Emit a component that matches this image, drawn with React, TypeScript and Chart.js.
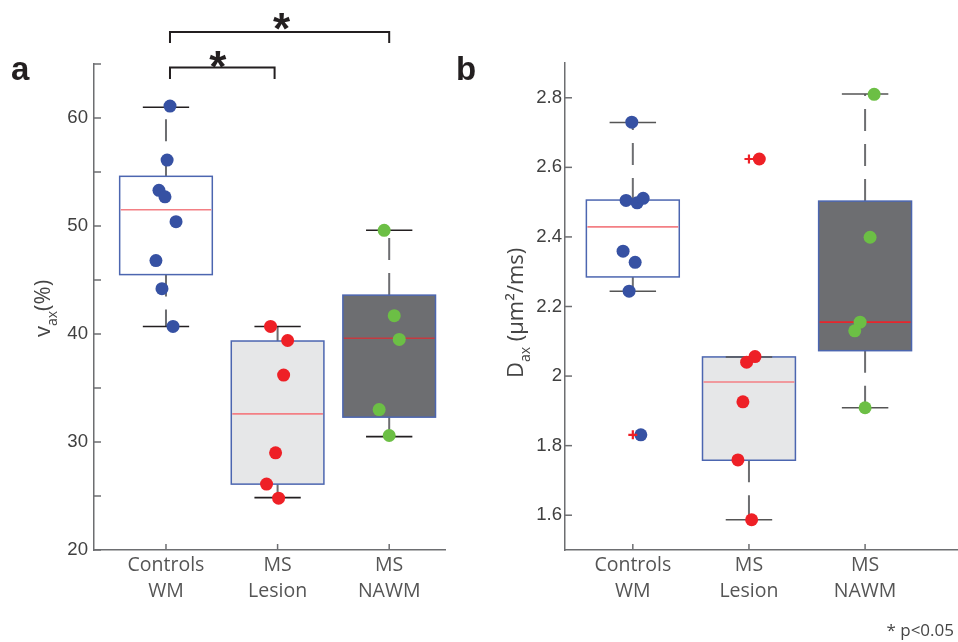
import React, { useEffect, useRef } from 'react';
import { Chart, registerables } from 'chart.js';

Chart.register(...registerables);

// ---------- shared ----------
const CATEGORIES: string[][] = [['Controls', 'WM'], ['MS', 'Lesion'], ['MS', 'NAWM']];
const CAT_POS = [1, 2, 3];
const POINT_COLORS = ['#3651a3', '#ee2026', '#6cbf45'];
const BOX_FILLS = ['#ffffff', '#e6e7e8', '#6d6e71'];

// ---------- panel a : v_ax (%) ----------
const A_Y_TICKS = [20, 25, 30, 35, 40, 45, 50, 55, 60, 65];
const A_Y_LABELS = [20, 30, 40, 50, 60];
const A_LOW = [40.7, 24.85, 30.5];
const A_Q1 = [45.5, 26.1, 32.3];
const A_MED = [51.5, 32.6, 39.6];
const A_Q3 = [54.6, 39.35, 43.6];
const A_HIGH = [61.0, 40.7, 49.6];
const A_CTRL = [61.1, 56.1, 53.3, 52.7, 50.4, 46.8, 44.2, 40.7];
const A_CTRL_JIT = [0.036, 0.01, -0.063, -0.009, 0.09, -0.09, -0.036, 0.063];
const A_LES = [40.7, 39.4, 36.2, 29.0, 26.1, 24.8];
const A_LES_JIT = [-0.063, 0.09, 0.054, -0.018, -0.099, 0.009];
const A_NAWM = [49.6, 41.7, 39.5, 33.0, 30.6];
const A_NAWM_JIT = [-0.045, 0.045, 0.09, -0.09, 0];

// ---------- panel b : D_ax (um2/ms) ----------
const B_Y_TICKS = [1.6, 1.8, 2.0, 2.2, 2.4, 2.6, 2.8];
const B_Y_LABELS = ['1.6', '1.8', '2', '2.2', '2.4', '2.6', '2.8'];
const B_LOW = [2.244, 1.587, 1.909];
const B_Q1 = [2.285, 1.758, 2.073];
const B_MED = [2.429, 1.983, 2.155];
const B_Q3 = [2.506, 2.055, 2.503];
const B_HIGH = [2.729, 2.055, 2.811];
const B_CTRL = [2.73, 2.505, 2.498, 2.511, 2.359, 2.327, 2.244, 1.831];
const B_CTRL_JIT = [-0.009, -0.058, 0.037, 0.089, -0.084, 0.02, -0.032, 0.069];
const B_LES = [2.624, 2.056, 2.04, 1.926, 1.759, 1.587];
const B_LES_JIT = [0.089, 0.052, -0.02, -0.052, -0.095, 0.023];
const B_NAWM = [2.81, 2.399, 2.155, 2.13, 1.909];
const B_NAWM_JIT = [0.078, 0.043, -0.043, -0.089, 0];
const B_OUTLIER_CAT = [1, 2];
const B_OUTLIER_VAL = [1.831, 2.624];

const AXIS_COLOR = '#6d6e71';
const TEXT_COLOR = '#454545';

function pts(vals: number[], jit: number[], cat: number) {
  return vals.map((v, i) => ({ x: cat + jit[i], y: v }));
}

function boxPlugin(id: string, st: any) {
  return {
    id,
    beforeDatasetsDraw(chart: any) {
      const ctx = chart.ctx;
      const xs = chart.scales.x;
      const ys = chart.scales.y;
      ctx.save();
      for (let i = 0; i < 3; i++) {
        const c = CAT_POS[i];
        const xc = xs.getPixelForValue(c);
        const xl = xs.getPixelForValue(c - st.boxWidth / 2);
        const xr = xs.getPixelForValue(c + st.boxWidth / 2);
        const cl = xs.getPixelForValue(c - st.boxWidth / 4);
        const cr = xs.getPixelForValue(c + st.boxWidth / 4);
        const yLo = ys.getPixelForValue(st.low[i]);
        const yQ1 = ys.getPixelForValue(st.q1[i]);
        const yMed = ys.getPixelForValue(st.med[i]);
        const yQ3 = ys.getPixelForValue(st.q3[i]);
        const yHi = ys.getPixelForValue(st.high[i]);
        // dashed whiskers, starting at box edges
        ctx.strokeStyle = '#6d6e71';
        ctx.lineWidth = 2;
        ctx.setLineDash([22, 13]);
        if (Math.abs(yQ3 - yHi) > 0.5) {
          ctx.beginPath(); ctx.moveTo(xc, yQ3); ctx.lineTo(xc, yHi); ctx.stroke();
        }
        if (Math.abs(yQ1 - yLo) > 0.5) {
          ctx.beginPath(); ctx.moveTo(xc, yQ1); ctx.lineTo(xc, yLo); ctx.stroke();
        }
        ctx.setLineDash([]);
        // box
        ctx.fillStyle = BOX_FILLS[i];
        ctx.fillRect(xl, yQ3, xr - xl, yQ1 - yQ3);
        ctx.strokeStyle = '#4c66b0';
        ctx.lineWidth = 1.5;
        ctx.strokeRect(xl, yQ3, xr - xl, yQ1 - yQ3);
        // median
        ctx.strokeStyle = st.medColors[i];
        ctx.lineWidth = 1.6;
        ctx.beginPath(); ctx.moveTo(xl + 1, yMed); ctx.lineTo(xr - 1, yMed); ctx.stroke();
        // caps
        ctx.strokeStyle = st.capColor;
        ctx.lineWidth = 1.6;
        ctx.beginPath(); ctx.moveTo(cl, yHi); ctx.lineTo(cr, yHi); ctx.stroke();
        ctx.beginPath(); ctx.moveTo(cl, yLo); ctx.lineTo(cr, yLo); ctx.stroke();
      }
      // inward tick marks
      ctx.strokeStyle = AXIS_COLOR;
      ctx.lineWidth = 1.5;
      const area = chart.chartArea;
      for (const t of ys.ticks) {
        const y = ys.getPixelForValue(t.value);
        ctx.beginPath(); ctx.moveTo(area.left, y); ctx.lineTo(area.left + 7, y); ctx.stroke();
      }
      for (const t of xs.ticks) {
        const x = xs.getPixelForValue(t.value);
        ctx.beginPath(); ctx.moveTo(x, area.bottom); ctx.lineTo(x, area.bottom - 6); ctx.stroke();
      }
      ctx.restore();
    },
  };
}

function drawRotTitle(ctx: CanvasRenderingContext2D, x: number, y: number, parts: any[]) {
  ctx.save();
  ctx.translate(x, y);
  ctx.rotate(-Math.PI / 2);
  ctx.fillStyle = TEXT_COLOR;
  ctx.textAlign = 'left';
  ctx.textBaseline = 'alphabetic';
  let cx = 0;
  for (const p of parts) {
    ctx.font = p.font;
    ctx.fillText(p.text, cx, p.dy || 0);
    cx += ctx.measureText(p.text).width;
  }
  ctx.restore();
}

const TITLE_FONT = '22px "Open Sans"';
const SUB_FONT = '14px "Open Sans"';

const annotA = {
  id: 'annotA',
  afterDraw(chart: any) {
    const ctx = chart.ctx;
    const xs = chart.scales.x;
    ctx.save();
    // panel letter
    ctx.fillStyle = '#231f20';
    ctx.font = 'bold 33px "Liberation Sans"';
    ctx.textAlign = 'left';
    ctx.textBaseline = 'alphabetic';
    ctx.fillText('a', 11, 80);
    // significance brackets
    const x1 = xs.getPixelForValue(1);
    const x2 = xs.getPixelForValue(2);
    const x3 = xs.getPixelForValue(3);
    ctx.strokeStyle = '#231f20';
    ctx.lineWidth = 2;
    ctx.beginPath();
    ctx.moveTo(x1 + 4, 79); ctx.lineTo(x1 + 4, 67.5); ctx.lineTo(x2 - 3, 67.5); ctx.lineTo(x2 - 3, 79);
    ctx.stroke();
    ctx.beginPath();
    ctx.moveTo(x1 + 4, 43); ctx.lineTo(x1 + 4, 32); ctx.lineTo(x3, 32); ctx.lineTo(x3, 43);
    ctx.stroke();
    ctx.fillStyle = '#231f20';
    ctx.font = 'bold 44px "Liberation Sans"';
    ctx.textAlign = 'center';
    ctx.fillText('*', (x1 + x2) / 2 - 4, 82);
    ctx.fillText('*', (x1 + x3) / 2 + 4, 44);
    ctx.restore();
    drawRotTitle(ctx, 50, 337, [
      { text: 'v', font: TITLE_FONT },
      { text: 'ax', font: SUB_FONT, dy: 7 },
      { text: '(%)', font: TITLE_FONT },
    ]);
  },
};

const B_OFFSET = 440;

const annotB = {
  id: 'annotB',
  afterDraw(chart: any) {
    const ctx = chart.ctx;
    ctx.save();
    ctx.fillStyle = '#231f20';
    ctx.font = 'bold 33px "Liberation Sans"';
    ctx.textAlign = 'left';
    ctx.textBaseline = 'alphabetic';
    ctx.fillText('b', 456 - B_OFFSET, 80);
    ctx.fillStyle = TEXT_COLOR;
    ctx.font = '17px "Open Sans"';
    ctx.textAlign = 'right';
    ctx.fillText('* p<0.05', 954 - B_OFFSET, 636);
    ctx.restore();
    drawRotTitle(ctx, 523 - B_OFFSET, 378, [
      { text: 'D', font: TITLE_FONT },
      { text: 'ax', font: SUB_FONT, dy: 7 },
      { text: ' (\u03bcm\u00b2/ms)', font: TITLE_FONT },
    ]);
  },
};

function makeConfig(p: any) {
  return {
    type: 'scatter',
    data: { datasets: p.datasets },
    options: {
      animation: false,
      responsive: false,
      maintainAspectRatio: false,
      events: [],
      layout: { autoPadding: false, padding: { left: 0, top: p.top, right: p.right, bottom: p.bottom } },
      plugins: { legend: { display: false }, tooltip: { enabled: false } },
      scales: {
        x: {
          type: 'linear',
          min: p.xMin,
          max: p.xMax,
          afterBuildTicks: (s: any) => { s.ticks = CAT_POS.map((v) => ({ value: v })); },
          afterFit: (s: any) => { s.height = 60; s.paddingLeft = 0; s.paddingRight = 0; },
          grid: { display: false, drawTicks: false },
          border: { display: true, color: AXIS_COLOR, width: 1.5 },
          ticks: {
            autoSkip: false,
            maxRotation: 0,
            padding: 3,
            color: '#555555',
            font: { family: '"Open Sans"', size: 19.5, lineHeight: 1.32 },
            callback: (v: number) => CATEGORIES[CAT_POS.indexOf(Math.round(v))],
          },
        },
        y: {
          type: 'linear',
          min: p.yMin,
          max: p.yMax,
          afterBuildTicks: (s: any) => { s.ticks = p.yTicks.map((v: number) => ({ value: v })); },
          afterFit: (s: any) => { s.width = p.yWidth; s.paddingTop = 0; s.paddingBottom = 0; },
          grid: { display: false, drawTicks: false },
          border: { display: true, color: AXIS_COLOR, width: 1.5 },
          ticks: {
            autoSkip: false,
            padding: p.yPad,
            color: '#404040',
            font: { family: '"Liberation Sans"', size: 18.6 },
            callback: p.yLabel,
          },
        },
      },
    },
    plugins: p.plugins,
  };
}

function scatterSet(data: any[], color: string) {
  return {
    data,
    backgroundColor: color,
    borderColor: color,
    borderWidth: 0,
    pointRadius: 6.5,
  };
}

export default function App() {
  const refA = useRef<HTMLCanvasElement>(null);
  const refB = useRef<HTMLCanvasElement>(null);

  useEffect(() => {
    const chartA = new Chart(refA.current as any, makeConfig({
      datasets: [
        scatterSet(pts(A_CTRL, A_CTRL_JIT, 1), POINT_COLORS[0]),
        scatterSet(pts(A_LES, A_LES_JIT, 2), POINT_COLORS[1]),
        scatterSet(pts(A_NAWM, A_NAWM_JIT, 3), POINT_COLORS[2]),
      ],
      top: 64, right: 479 - 445, bottom: 642 - 550 - 60,
      xMin: 0.355, xMax: 3.5,
      yMin: 20, yMax: 65, yTicks: A_Y_TICKS, yWidth: 94, yPad: 6,
      yLabel: (v: number) => (A_Y_LABELS.includes(Math.round(v)) ? String(Math.round(v)) : ''),
      plugins: [
        boxPlugin('boxA', {
          low: A_LOW, q1: A_Q1, med: A_MED, q3: A_Q3, high: A_HIGH,
          boxWidth: 0.83, capColor: '#231f20',
          medColors: ['#f37f84', '#f37f84', '#c53a40'],
        }),
        annotA,
      ],
    }) as any);

    const chartB = new Chart(refB.current as any, makeConfig({
      datasets: [
        {
          data: B_OUTLIER_CAT.map((c, i) => ({ x: c, y: B_OUTLIER_VAL[i] })),
          pointStyle: 'cross',
          pointRadius: 4.5,
          borderColor: '#ee2026',
          backgroundColor: '#ee2026',
          borderWidth: 2.2,
        },
        scatterSet(pts(B_CTRL, B_CTRL_JIT, 1), POINT_COLORS[0]),
        scatterSet(pts(B_LES, B_LES_JIT, 2), POINT_COLORS[1]),
        scatterSet(pts(B_NAWM, B_NAWM_JIT, 3), POINT_COLORS[2]),
      ],
      top: 63, right: 0, bottom: 642 - 550 - 60,
      xMin: 0.416, xMax: 3.8,
      yMin: 1.5, yMax: 2.9, yTicks: B_Y_TICKS, yWidth: 565 - B_OFFSET, yPad: 3,
      yLabel: (_v: number, i: number) => B_Y_LABELS[i],
      plugins: [
        boxPlugin('boxB', {
          low: B_LOW, q1: B_Q1, med: B_MED, q3: B_Q3, high: B_HIGH,
          boxWidth: 0.8, capColor: '#555555',
          medColors: ['#f37f84', '#f37f84', '#e8262c'],
        }),
        annotB,
      ],
    }) as any);

    return () => {
      chartA.destroy();
      chartB.destroy();
    };
  }, []);

  return (
    <div style={{ position: 'absolute', left: 0, top: 0, width: 958, height: 642, background: '#ffffff' }}>
      <canvas ref={refA} width={479} height={642}
        style={{ position: 'absolute', left: 0, top: 0, width: 479, height: 642 }} />
      <canvas ref={refB} width={958 - B_OFFSET} height={642}
        style={{ position: 'absolute', left: B_OFFSET, top: 0, width: 958 - B_OFFSET, height: 642 }} />
    </div>
  );
}
